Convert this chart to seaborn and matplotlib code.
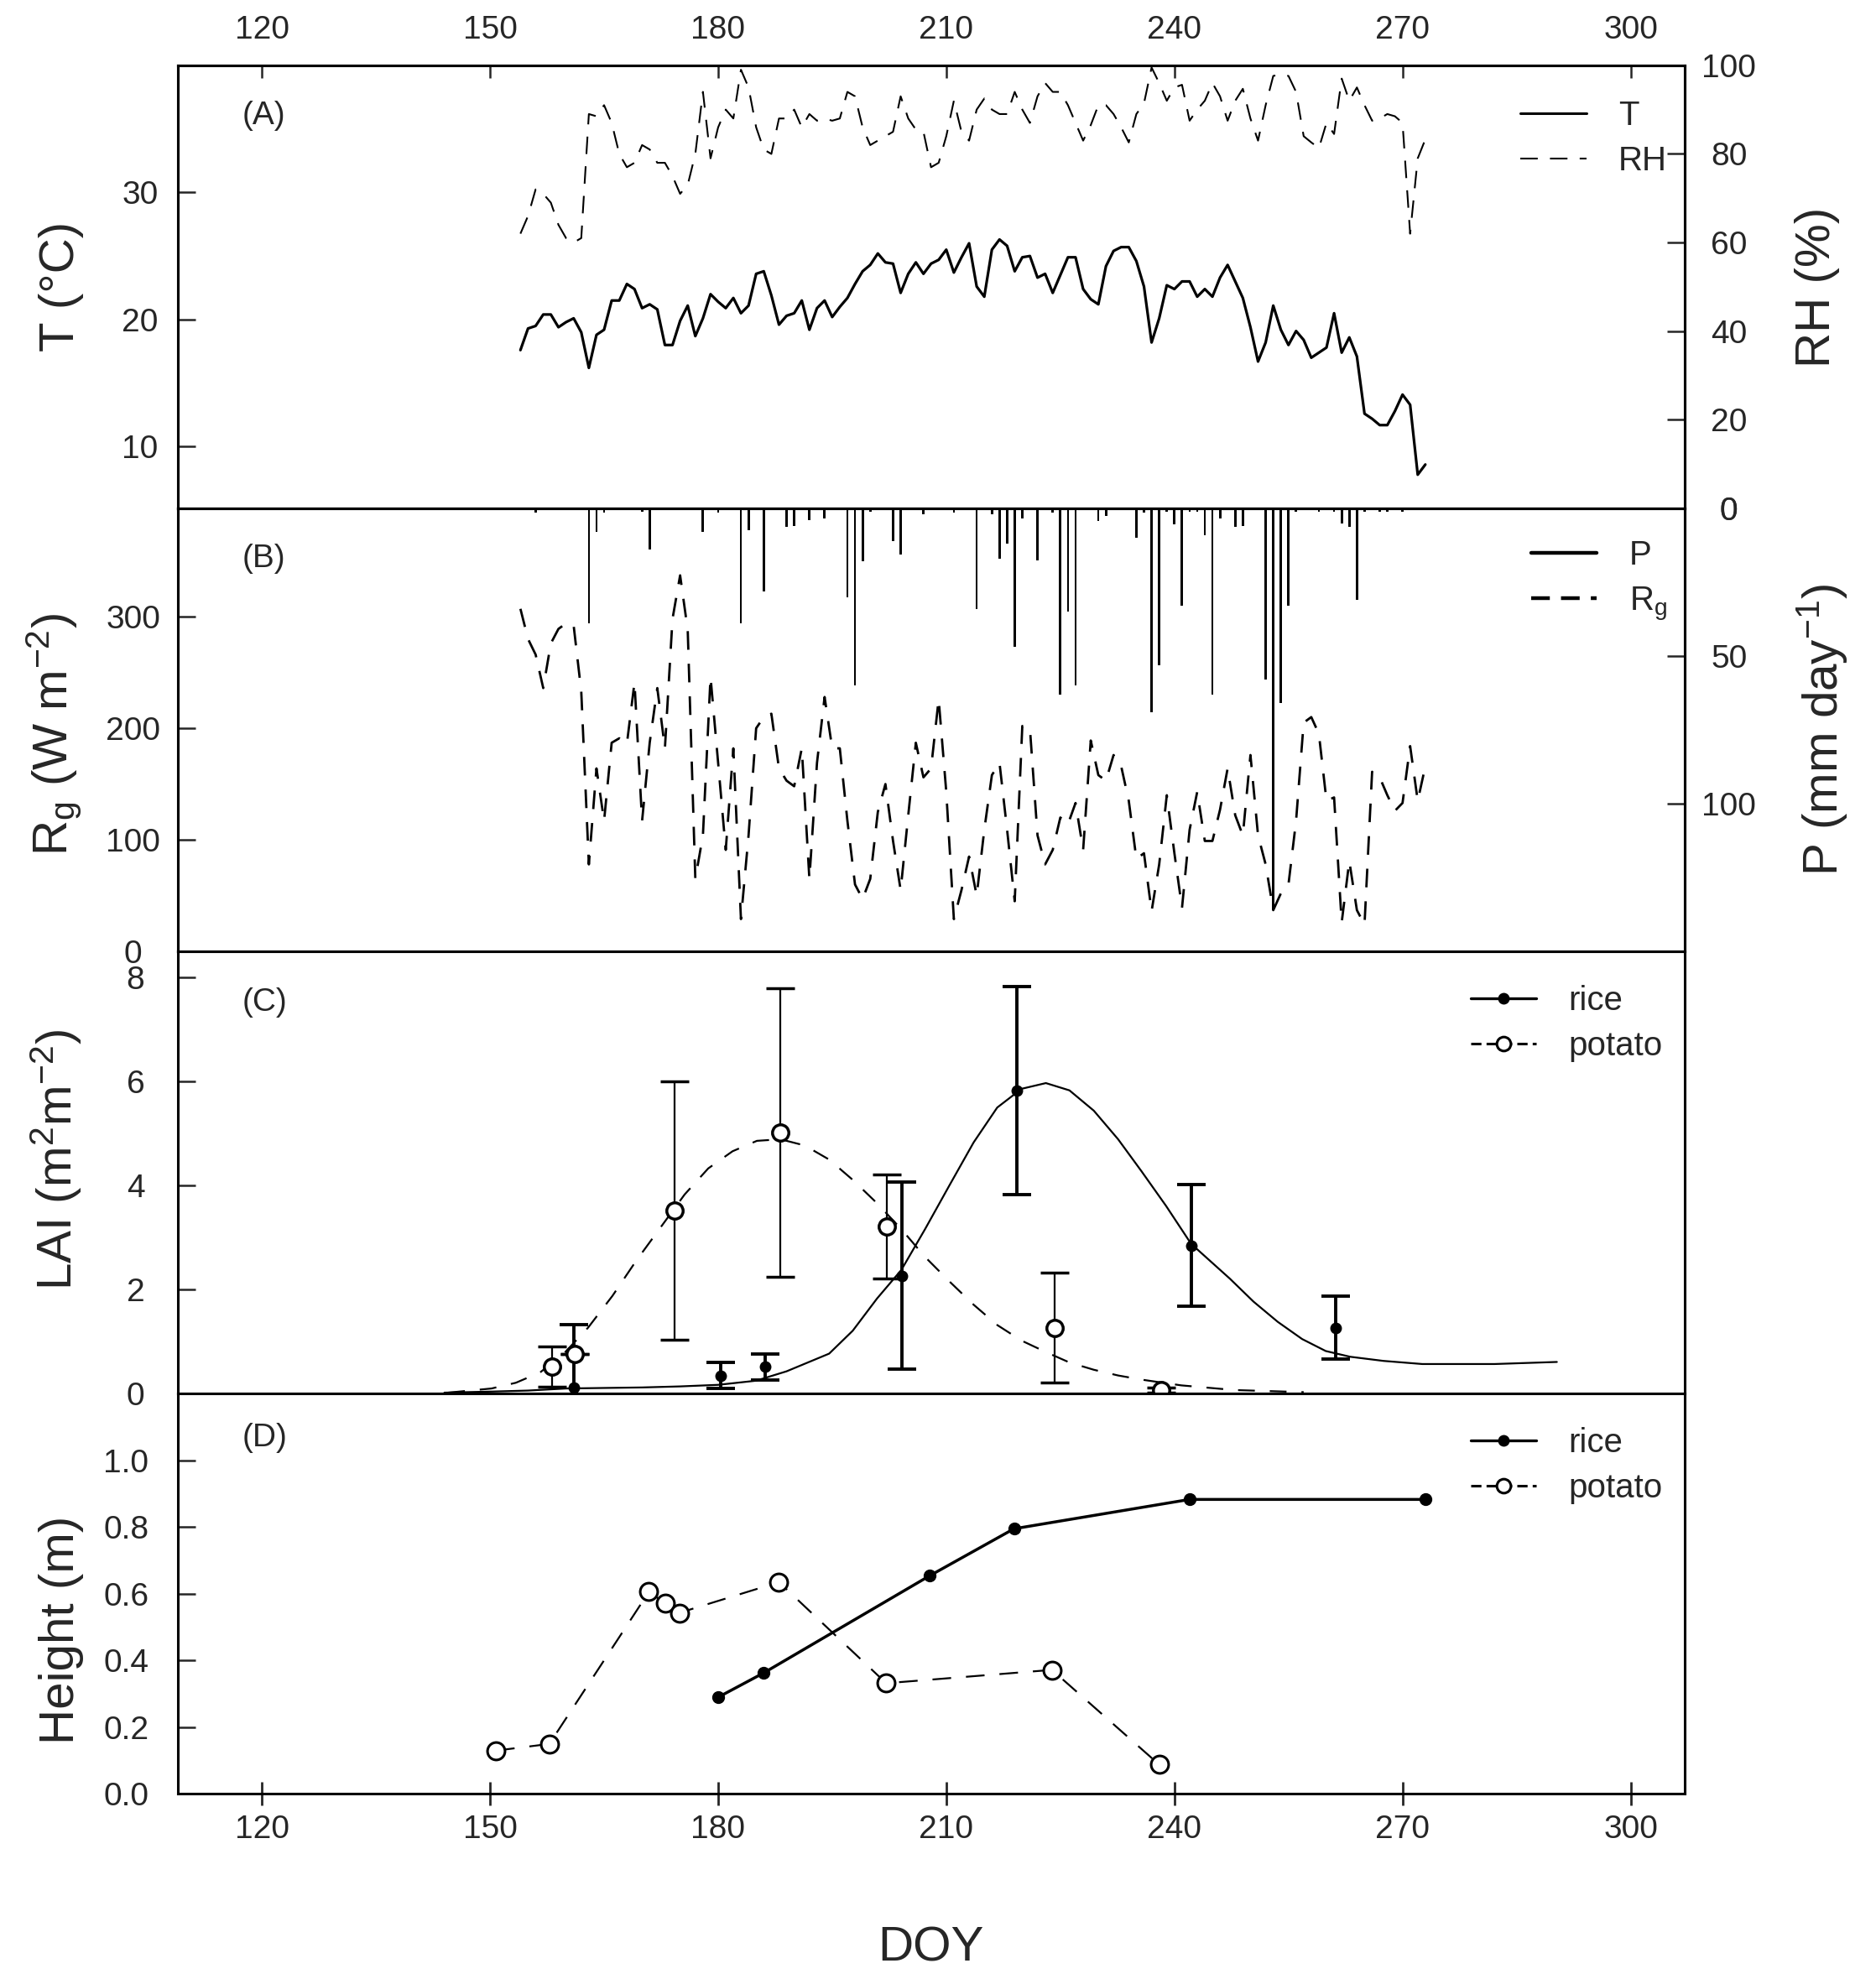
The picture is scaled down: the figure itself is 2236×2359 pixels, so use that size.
import numpy as np
import matplotlib.pyplot as plt
import seaborn as sns
from matplotlib.lines import Line2D

sns.set_style('ticks')
plt.rcParams['font.family'] = ['Liberation Sans', 'DejaVu Sans']
plt.rcParams['mathtext.fontset'] = 'custom'
plt.rcParams['mathtext.rm'] = 'Liberation Sans'
plt.rcParams['mathtext.it'] = 'Liberation Sans:italic'
plt.rcParams['axes.linewidth'] = 2.2
plt.rcParams['axes.edgecolor'] = 'black'

# ---- daily weather, DOY 154..273
doy_met = np.arange(154, 274)
temp = [17.6, 19.3, 19.5, 20.4, 20.4, 19.4, 19.8, 20.1, 19.0, 16.2,
        18.8, 19.2, 21.5, 21.5, 22.8, 22.4, 20.9, 21.2, 20.8, 18.0,
        18.0, 19.9, 21.1, 18.7, 20.1, 22.0, 21.4, 20.9, 21.7, 20.5,
        21.1, 23.6, 23.8, 21.9, 19.6, 20.3, 20.5, 21.5, 19.2, 20.9,
        21.5, 20.2, 21.0, 21.7, 22.8, 23.8, 24.3, 25.2, 24.5, 24.4,
        22.1, 23.6, 24.5, 23.6, 24.4, 24.7, 25.5, 23.7, 24.9, 26.0,
        22.6, 21.8, 25.5, 26.3, 25.8, 23.8, 24.9, 25.0, 23.3, 23.6,
        22.1, 23.5, 24.9, 24.9, 22.4, 21.6, 21.2, 24.2, 25.4, 25.7,
        25.7, 24.6, 22.6, 18.2, 20.1, 22.7, 22.4, 23.0, 23.0, 21.8,
        22.4, 21.8, 23.3, 24.3, 23.0, 21.7, 19.4, 16.7, 18.2, 21.1,
        19.2, 18.0, 19.1, 18.4, 17.0, 17.4, 17.8, 20.5, 17.4, 18.6,
        17.1, 12.6, 12.2, 11.7, 11.7, 12.8, 14.1, 13.3, 7.8, 8.6]
rh = [62, 66, 72, 71, 69, 64, 61, 60, 61, 89,
      88.5, 91, 87, 80, 77, 78, 82, 81, 78, 78,
      75, 71, 73, 80, 94, 79, 86, 90, 88, 99,
      95, 86, 81, 80, 88, 88, 90, 86, 89, 87.5,
      88, 87.5, 88, 94, 93, 86, 82, 83, 84, 85,
      93, 88, 85.5, 85, 77, 78, 84, 92, 85, 83,
      90, 92.5, 90, 89, 89, 94, 90, 87, 93, 96,
      94, 94, 91, 87, 83, 86.5, 91, 91, 89, 86,
      82.6, 89, 91.4, 99.5, 96, 92, 95, 95.6, 87.5, 90,
      92, 96, 93, 87.5, 92, 94.7, 88, 83, 91, 97.6,
      98, 97.6, 94, 84, 82.6, 81.3, 87, 84.5, 97, 92,
      95, 91, 87.5, 88, 89, 88.5, 87, 62, 79, 83.3]
rg = [307, 280, 266, 236, 276, 289, 294, 292, 233, 78,
      164, 117, 187, 191, 186, 241, 117, 187, 236, 182,
      298, 337, 288, 65, 104, 246, 169, 91, 182, 29,
      104, 200, 210, 213, 164, 153, 148, 182, 65, 169,
      228, 182, 182, 117, 60, 47, 65, 125, 150, 99,
      55, 122, 187, 156, 164, 226, 143, 29, 55, 85,
      50, 109, 158, 169, 109, 45, 202, 200, 104, 78,
      91, 120, 114, 133, 91, 189, 158, 153, 176, 166,
      135, 83, 88, 36, 78, 140, 88, 39, 109, 143,
      99, 99, 127, 164, 122, 104, 176, 104, 78, 37,
      52, 60, 117, 205, 210, 195, 135, 138, 26, 81,
      37, 24, 161, 156, 140, 126, 133, 184, 135, 166]

# precipitation (rain days only)
p_doy = [156, 163, 164, 165, 170, 171, 178, 180, 183, 184, 186, 189, 190, 192,
         194, 197, 198, 199, 200, 203, 204, 207, 211, 214, 216, 217, 218, 219,
         220, 222, 224, 225, 226, 227, 230, 231, 235, 236, 237, 238, 239, 240,
         241, 242, 243, 244, 245, 246, 248, 249, 252, 253, 254, 255, 256, 259,
         261, 262, 263, 264, 265, 267, 268, 270]
p_mm = [1.5, 39, 8, 1.5, 1, 14, 8, 1.5, 39, 7.3, 28, 6.3, 5.9, 3.9,
        3.4, 30, 60, 18, 1, 11, 15.6, 2, 1.5, 34, 2, 17, 12, 47,
        3.4, 17.7, 1.5, 63, 35, 60, 4.4, 2.5, 10, 1.5, 69, 53, 1, 5.4,
        33, 1, 1, 9, 63, 3.4, 6.3, 5.9, 58, 136, 66, 33, 1, 1,
        1, 5, 6.3, 31, 1, 1, 1, 1]

# ---- LAI observations and fitted curves
rice_lai_doy = [161, 180.3, 186.2, 204.2, 219.3, 242.2, 261.2]
rice_lai = [0.12, 0.35, 0.52, 2.27, 5.83, 2.85, 1.27]
rice_lai_err = [1.2, 0.25, 0.25, 1.8, 2.0, 1.17, 0.6]
potato_lai_doy = [158.2, 161.1, 174.3, 188.2, 202.2, 224.3, 238.3]
potato_lai = [0.52, 0.77, 3.52, 5.02, 3.22, 1.27, 0.07]
potato_lai_err = [0.38, 0.0, 2.48, 2.78, 1.0, 1.06, 0.05]

rice_fit_doy = [144, 150, 155, 160, 165, 170, 175, 180, 185, 189, 194.6, 197.7,
                200.9, 204.1, 207.2, 210.4, 213.6, 216.7, 219.9, 223.1, 226.2,
                229.4, 232.6, 235.7, 238.9, 242.2, 247.3, 250.4, 253.6, 256.8,
                259.9, 263.1, 267.5, 272.6, 282.1, 290.3]
rice_fit_lai = [0.02, 0.04, 0.06, 0.1, 0.11, 0.12, 0.14, 0.17, 0.25, 0.43, 0.77, 1.21,
                1.83, 2.38, 3.16, 4.0, 4.83, 5.5, 5.86, 5.97, 5.83,
                5.44, 4.89, 4.27, 3.61, 2.88, 2.21, 1.77, 1.38, 1.05,
                0.82, 0.71, 0.63, 0.57, 0.57, 0.61]
potato_fit_doy = [144.5, 150.2, 153.4, 156.6, 159.7, 162.9, 166.1, 169.2, 172.4,
                  175.6, 178.7, 181.9, 185.1, 188.2, 191.4, 194.6, 197.7, 200.9,
                  204.1, 207.2, 210.4, 213.6, 216.7, 219.9, 223.1, 226.2, 229.4,
                  232.6, 235.7, 240.9, 247.9, 257.0]
potato_fit_lai = [0.02, 0.1, 0.21, 0.41, 0.77, 1.27, 1.88, 2.55, 3.19,
                  3.83, 4.33, 4.66, 4.86, 4.89, 4.77, 4.5, 4.11, 3.66,
                  3.16, 2.63, 2.16, 1.71, 1.32, 1.02, 0.8, 0.6, 0.46,
                  0.35, 0.27, 0.16, 0.07, 0.03]

# ---- canopy height
rice_h_doy = [180.0, 186.0, 207.8, 218.9, 242.0, 273.0]
rice_h = [0.29, 0.363, 0.654, 0.795, 0.883, 0.883]
potato_h_doy = [150.8, 157.8, 170.9, 173.0, 174.9, 188.0, 202.1, 223.9, 238.0]
potato_h = [0.130, 0.150, 0.606, 0.572, 0.543, 0.635, 0.332, 0.372, 0.088]

TICK = 28
LAB = 42
LEG = 29

fig = plt.figure(figsize=(22.36, 23.59), dpi=100)
gs = fig.add_gridspec(4, 1, left=0.0946, right=0.898, top=0.967, bottom=0.0935,
                      hspace=0, height_ratios=[528, 528, 527, 477])
axA = fig.add_subplot(gs[0])
axB = fig.add_subplot(gs[1], sharex=axA)
axC = fig.add_subplot(gs[2], sharex=axA)
axD = fig.add_subplot(gs[3], sharex=axA)
axA2 = axA.twinx()
axB2 = axB.twinx()

# (A) temperature and humidity
sns.lineplot(x=doy_met, y=temp, ax=axA, color='black', lw=2.3, legend=False)
sns.lineplot(x=doy_met, y=rh, ax=axA2, color='black', lw=1.5,
             linestyle=(0, (10, 7)), legend=False)
axA.set_ylim(5.15, 40)
axA.set_yticks([10, 20, 30])
axA2.set_ylim(0, 100)
axA2.set_yticks([0, 20, 40, 60, 80, 100])

# (B) radiation and precipitation
sns.lineplot(x=doy_met, y=rg, ax=axB, color='black', lw=2.0,
             linestyle=(0, (8, 6)), legend=False)
axB2.bar(p_doy, p_mm, width=0.3, color='black', linewidth=0)
axB.set_ylim(0, 397)
axB.set_yticks([0, 100, 200, 300])
axB2.set_ylim(150, 0)
axB2.set_yticks([0, 50, 100])

# (C) LAI
sns.lineplot(x=rice_fit_doy, y=rice_fit_lai, ax=axC, color='black', lw=1.6, legend=False)
sns.lineplot(x=potato_fit_doy, y=potato_fit_lai, ax=axC, color='black', lw=1.6,
             linestyle=(0, (9, 8)), legend=False)
axC.errorbar(rice_lai_doy, rice_lai, yerr=rice_lai_err, fmt='o', color='black',
             ms=9, elinewidth=2.8, capsize=12, capthick=2.8, zorder=4)
axC.errorbar(potato_lai_doy, potato_lai, yerr=potato_lai_err, fmt='o', color='black',
             mfc='white', mec='black', mew=2.5, ms=14, elinewidth=1.6, capsize=12,
             capthick=1.8, zorder=5)
axC.set_ylim(0, 8.5)
axC.set_yticks([0, 2, 4, 6, 8])

# (D) height
sns.lineplot(x=rice_h_doy, y=rice_h, ax=axD, color='black', lw=2.5, marker='o',
             markersize=10, markerfacecolor='black', markeredgecolor='black',
             markeredgewidth=1, legend=False)
sns.lineplot(x=potato_h_doy, y=potato_h, ax=axD, color='black', lw=1.6,
             linestyle=(0, (10, 8)), marker='o', markersize=15, markerfacecolor='white',
             markeredgecolor='black', markeredgewidth=2.2, legend=False, sort=False)
axD.set_ylim(0, 1.2)
axD.set_yticks([0, 0.2, 0.4, 0.6, 0.8, 1.0])
axD.set_yticklabels(['0.0', '0.2', '0.4', '0.6', '0.8', '1.0'])

# x axis
axA.set_xlim(108.9, 307.1)
axA.set_xticks(np.arange(120, 301, 30))
axA.tick_params(axis='x', bottom=False, labelbottom=False, top=True, labeltop=True,
                direction='in', length=11, width=1.8, labelsize=TICK, pad=17)
for ax in (axB, axC):
    ax.tick_params(axis='x', bottom=False, labelbottom=False, top=False, labeltop=False)
axD.tick_params(axis='x', bottom=True, labelbottom=True, top=False, labeltop=False,
                direction='inout', length=20, width=2, labelsize=TICK, pad=8)

# y ticks, labels centred like the original
for ax, pad in ((axA, 32), (axB, 38), (axC, 36), (axD, 44)):
    ax.tick_params(axis='y', left=True, right=False, direction='in', length=15,
                   width=1.8, labelsize=TICK, pad=pad)
    plt.setp(ax.get_yticklabels(), ha='center')
for ax in (axA2, axB2):
    ax.tick_params(axis='y', left=False, right=True, direction='in', length=15,
                   width=1.8, labelsize=TICK, pad=38)
    plt.setp(ax.get_yticklabels(), ha='center')

for ax in (axA, axA2, axB, axB2, axC, axD):
    for s in ax.spines.values():
        s.set_linewidth(2.2)
        s.set_color('black')

axA.set_ylabel('T (°C)', fontsize=LAB)
axB.set_ylabel(r'R$_\mathrm{g}$ (W m$^{-2}$)', fontsize=LAB)
axC.set_ylabel('LAI (m$^2$m$^{-2}$)', fontsize=LAB)
axD.set_ylabel('Height (m)', fontsize=LAB)
axA.yaxis.set_label_coords(-0.062, 0.5)
axB.yaxis.set_label_coords(-0.062, 0.49)
axC.yaxis.set_label_coords(-0.062, 0.53)
axD.yaxis.set_label_coords(-0.062, 0.41)
axA2.set_ylabel('RH (%)', fontsize=LAB)
axB2.set_ylabel('P (mm day$^{-1}$)', fontsize=LAB)
for ax in (axA2, axB2):
    ax.yaxis.set_label_coords(1.073, 0.5)
axD.set_xlabel('DOY', fontsize=LAB)
axD.xaxis.set_label_coords(0.5, -0.33)

# panel letters
for ax, lab, y in ((axA, '(A)', 0.886), (axB, '(B)', 0.886), (axC, '(C)', 0.884), (axD, '(D)', 0.89)):
    ax.text(0.043, y, lab, transform=ax.transAxes, fontsize=TICK, va='center', ha='left')

# legends
leg_kw = dict(frameon=False, loc='upper left', borderpad=0, borderaxespad=0,
              fontsize=LEG, handlelength=1.95, handletextpad=0.95, labelspacing=0.4)
hA = [Line2D([], [], color='black', lw=2.2),
      Line2D([], [], color='black', lw=1.5, ls=(0, (10, 7)))]
axA2.legend(hA, ['T', 'RH'], bbox_to_anchor=(0.891, 0.922), **leg_kw)
hB = [Line2D([], [], color='black', lw=3.2),
      Line2D([], [], color='black', lw=3.2, ls=(0, (5, 3)))]
axB2.legend(hB, ['P', r'R$_\mathrm{g}$'], bbox_to_anchor=(0.898, 0.93), **leg_kw)
hC = [Line2D([], [], color='black', lw=2.4, marker='o', ms=9),
      Line2D([], [], color='black', lw=2.2, ls=(0, (4, 2)), marker='o', ms=12,
             mfc='white', mew=2.2)]
axC.legend(hC, ['rice', 'potato'], bbox_to_anchor=(0.858, 0.924), **leg_kw)
axD.legend(hC, ['rice', 'potato'], bbox_to_anchor=(0.858, 0.917), **leg_kw)

fig.savefig('out.png', dpi=100)
